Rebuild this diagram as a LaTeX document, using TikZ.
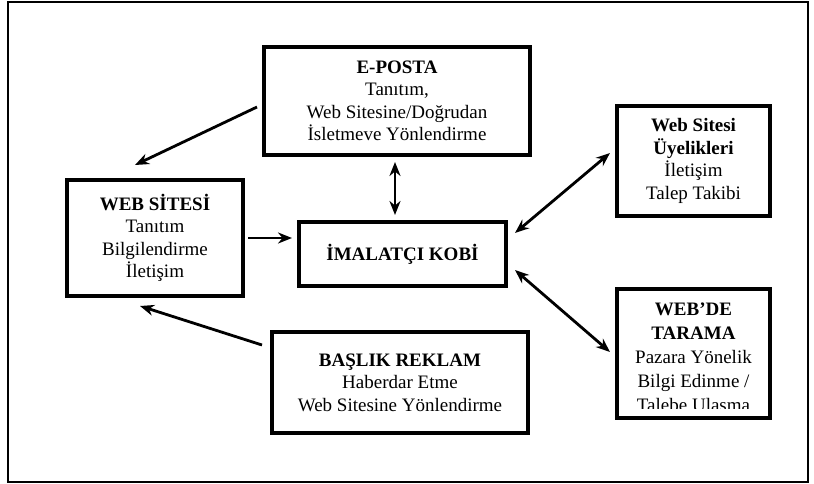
\documentclass[tikz,border=0pt]{standalone}
\usepackage{fontspec}
\setmainfont{Liberation Serif}
\usetikzlibrary{arrows.meta}

\tikzset{
	kutu/.style={draw, line width=4pt, align=center, inner sep=0pt,
		font=\fontsize{19}{22.5}\selectfont},
	metin/.style={align=center, inner sep=0pt, font=\fontsize{19}{24}\selectfont},
	ok/.style={line width=2.8pt, arrows=-{Stealth[length=14pt,width=11pt]}},
	ciftok/.style={line width=2.8pt,
		arrows={Stealth[length=14pt,width=11pt]}-{Stealth[length=14pt,width=11pt]}},
}

\begin{document}
\begin{tikzpicture}[x=1pt, y=-1pt]
	\useasboundingbox (0,0) rectangle (814,484);
	\draw[line width=2pt] (8,2) rectangle (808,482);

	\node[kutu, minimum width=207pt, minimum height=64pt]  (kobi)      at (402.5,254) {\textbf{İMALATÇI KOBİ}};
	\node[kutu, minimum width=266pt, minimum height=108pt] (eposta)    at (397,101)   {\textbf{E-POSTA}\\Tanıtım,\\Web Sitesine/Doğrudan\\İsletmeve Yönlendirme};
	\node[kutu, minimum width=176pt, minimum height=116pt] (websitesi) at (155,238)   {\textbf{WEB SİTESİ}\\Tanıtım\\Bilgilendirme\\İletişim};
	\node[kutu, minimum width=256pt, minimum height=101pt] (baslik)    at (400,382.5) {\textbf{BAŞLIK REKLAM}\\Haberdar Etme\\Web Sitesine Yönlendirme};
	\node[kutu, minimum width=153pt, minimum height=110pt] (uyelik)    at (693.5,161) {\textbf{Web Sitesi}\\\textbf{Üyelikleri}\\İletişim\\Talep Takibi};
	\node[kutu, minimum width=153pt, minimum height=129pt] (tarama)    at (693.5,353.5) {};

	% son satir kutunun altinda kesiliyor
	\begin{scope}
		\clip (tarama.north west) rectangle ([yshift=12pt]tarama.south east);
		\node[metin, anchor=north] (taramametin) at ([yshift=-16pt]tarama.north)
			{\textbf{WEB’DE}\\\textbf{TARAMA}\\Pazara Yönelik\\Bilgi Edinme /\\Talebe Ulasma};
	\end{scope}

	\draw[ok]     ([xshift=-5pt,yshift=-6pt]eposta.west) -- ([xshift=-20pt,yshift=13pt]websitesi.north);
	\draw[ciftok] ([xshift=-2pt,yshift=-5pt]eposta.south) -- ([xshift=-2pt,yshift=5pt]eposta.south |- kobi.north);
	\draw[ok]     ([xshift=3pt]websitesi.east) -- ([xshift=-5pt]kobi.west |- websitesi.east);
	\draw[ok]     ([xshift=-8pt,yshift=-15pt]baslik.north west) -- ([xshift=-15pt,yshift=-8pt]websitesi.south);
	\draw[ciftok] ([xshift=7pt,yshift=-13pt]kobi.north east) -- ([xshift=-5pt,yshift=8pt]uyelik.west);
	\draw[ciftok] ([xshift=7pt,yshift=18pt]kobi.south east) -- ([xshift=-5pt,yshift=1.5pt]tarama.west);
\end{tikzpicture}
\end{document}
